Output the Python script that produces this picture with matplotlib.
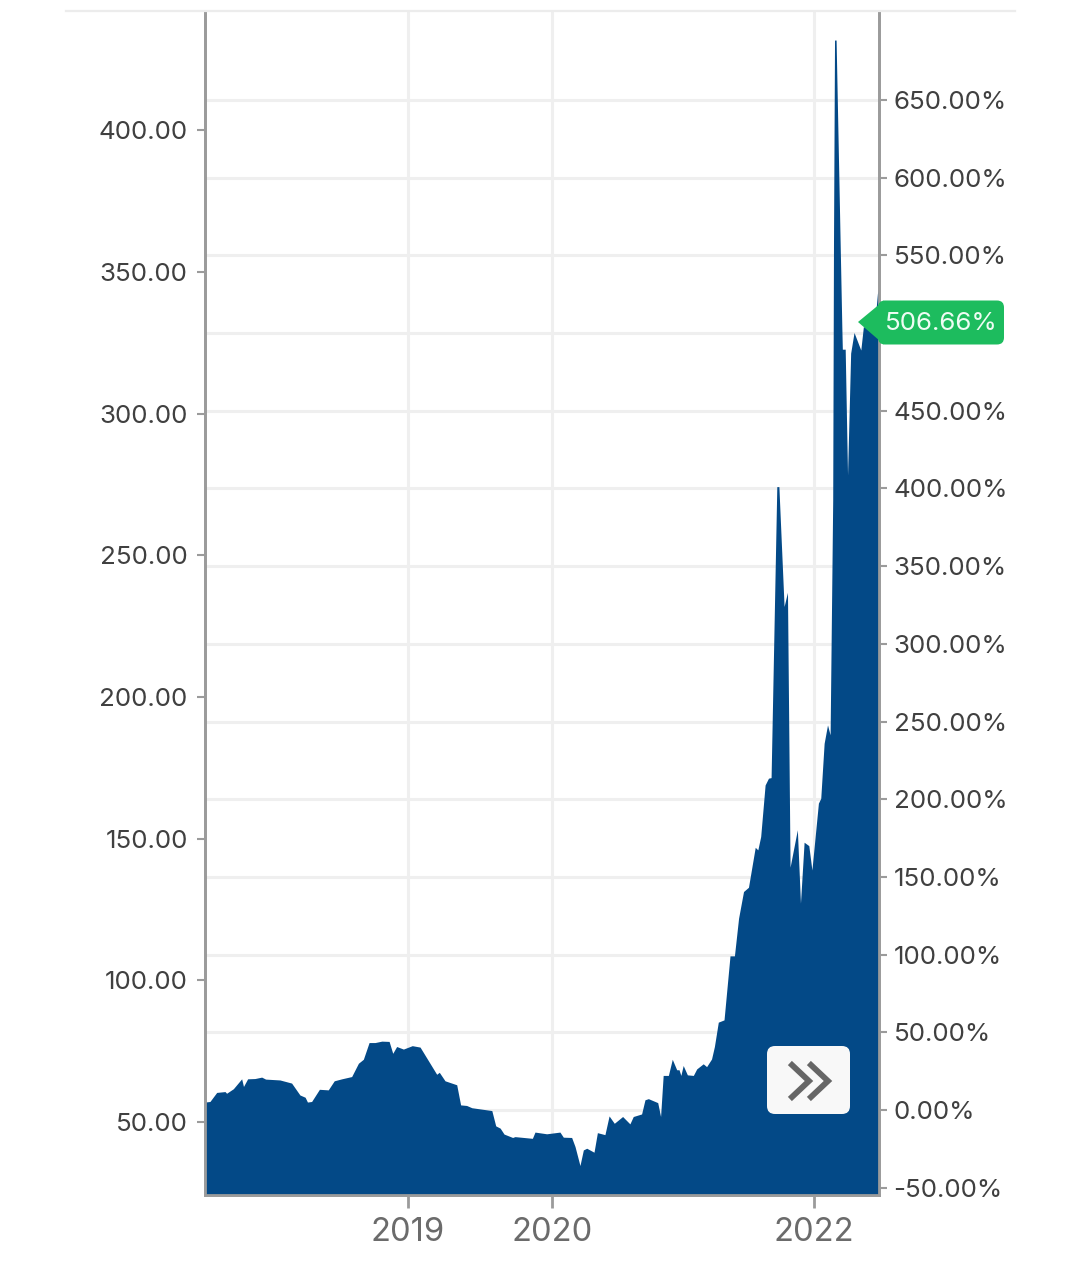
"""Share price area chart with price axis on the left and return axis on the right."""

import matplotlib

matplotlib.use("Agg")
import matplotlib.pyplot as plt
from matplotlib.patches import FancyBboxPatch, Polygon

plt.rcParams["font.family"] = ["Inter", "DejaVu Sans"]

# x position along the chart, in sessions (the axis is not linear in calendar time)
sessions = [
    0.0, 1.9, 4.5, 7.7, 8.3, 10.9, 14.1, 14.8, 16.4, 19.2, 21.8, 23.3, 28.8, 33.3, 36.5, 38.5,
    39.4, 41.0, 44.0, 47.4, 49.7, 52.6, 56.4, 59.0, 60.9, 63.1, 65.4, 68.0, 70.8, 72.2, 73.7,
    76.3, 79.7, 82.7, 86.5, 89.1, 90.1, 92.3, 96.8, 98.3, 100.6, 102.6, 110.3, 111.8, 113.5,
    115.0, 118.3, 119.2, 125.9, 126.9, 131.4, 136.5, 137.8, 141.0, 142.3, 144.2, 145.5, 146.8,
    149.6, 150.9, 153.8, 155.4, 157.4, 160.6, 163.4, 164.7, 167.9, 169.2, 170.5, 174.1, 175.2,
    176.2, 178.2, 179.7, 181.4, 182.3, 183.0, 183.9, 185.5, 187.8, 189.1, 191.6, 192.9, 194.8,
    195.9, 197.4, 199.6, 201.9, 203.6, 205.2, 207.1, 209.0, 211.6, 212.6, 213.7, 215.4, 216.7,
    217.7, 219.9, 220.7, 222.7, 224.0, 225.0, 227.8, 229.0, 230.4, 232.2, 233.4, 235.9, 236.8,
    238.1, 239.4, 240.4, 241.4, 241.7, 242.1, 242.7, 244.9, 245.1, 246.2, 247.1, 248.3, 249.6,
    252.2, 253.2, 255.8, 257.7, 258.6, 259.2,
]
price = [
    57.0, 57.2, 60.4, 60.7, 60.1, 61.7, 65.2, 62.5, 65.2, 65.3, 65.8, 65.1, 64.8, 63.7, 59.5, 58.7,
    57.0, 57.2, 61.5, 61.3, 64.5, 65.2, 66.0, 70.7, 72.1, 78.0, 78.0, 78.5, 78.4, 74.2, 76.6,
    75.7, 76.9, 76.4, 70.7, 66.8, 67.5, 64.5, 63.1, 56.0, 55.8, 55.0, 54.0, 48.6, 47.8,
    45.7, 44.5, 44.8, 44.2, 46.4, 45.8, 46.4, 44.6, 44.5, 41.3, 34.6, 40.1, 40.7,
    39.3, 46.2, 45.5, 52.1, 49.5, 51.9, 49.3, 51.9, 52.8, 57.8, 58.2, 56.8, 51.9,
    66.4, 66.4, 72.1, 68.4, 68.4, 66.4, 69.9, 66.6, 66.4, 68.7, 70.5, 69.5, 72.2,
    76.6, 85.2, 86.0, 108.6, 108.6, 121.9, 131.3, 132.8, 146.9, 146.0, 150.7, 168.9, 171.3,
    171.5, 274.2, 274.2, 231.9, 236.9, 139.9, 153.1, 127.2, 148.7, 147.5, 138.9, 162.5, 164.2,
    183.6, 190.1, 186.6, 269.5, 360.0, 431.8, 431.8, 330.7, 322.7, 322.7, 278.3, 321.3, 328.6,
    322.4, 330.7, 329.5, 333.0, 342.4, 344.0,
]

year_ticks = [78.1, 133.5, 234.2]
year_labels = ["2019", "2020", "2022"]
price_ticks = [50, 100, 150, 200, 250, 300, 350, 400]
price_labels = ["50.00", "100.00", "150.00", "200.00", "250.00", "300.00", "350.00", "400.00"]
return_ticks = [-50, 0, 50, 100, 150, 200, 250, 300, 350, 400, 450, 500, 550, 600, 650]
return_labels = [
    "-50.00%", "0.00%", "50.00%", "100.00%", "150.00%", "200.00%", "250.00%", "300.00%",
    "350.00%", "400.00%", "450.00%", "", "550.00%", "600.00%", "650.00%",
]
last_return = "506.66%"

W, H = 1080, 1263
GRID = "#efefef"
AXIS = "#9b9b9b"
BLUE = "#034987"

fig = plt.figure(figsize=(W / 100, H / 100), dpi=100, facecolor="white")
rect = [205 / W, (H - 1195) / H, 674 / W, 1183 / H]

# right axis sits underneath so its grid stays behind the area
ax_ret = fig.add_axes(rect, zorder=1)
ax_ret.yaxis.tick_right()
ax_ret.set_xlim(0, 259.2)
ax_ret.set_ylim(-54.7, 706.6)
ax_ret.set_yticks(return_ticks)
ax_ret.set_yticklabels(return_labels)
ax_ret.set_xticks([])
ax_ret.grid(axis="y", color=GRID, linewidth=2.2)
ax_ret.set_axisbelow(True)
ax_ret.tick_params(axis="y", length=5.5, width=1.5, color=AXIS, pad=5, labelsize=18.7, labelcolor="#404040")

ax = fig.add_axes(rect, zorder=2)
ax.patch.set_visible(False)
ax.fill_between(sessions, price, 0, color=BLUE, linewidth=0, zorder=2)
ax.set_xlim(0, 259.2)
ax.set_ylim(24.2, 441.7)
ax.set_yticks(price_ticks)
ax.set_yticklabels(price_labels)
ax.set_xticks(year_ticks)
ax.set_xticklabels(year_labels)
ax.grid(axis="x", color=GRID, linewidth=2.2)
ax.set_axisbelow(True)
ax.tick_params(axis="y", length=5.5, width=1.5, color=AXIS, pad=7, labelsize=18.7, labelcolor="#404040")
ax.tick_params(axis="x", length=9, width=2, color=AXIS, pad=7, labelsize=23.5, labelcolor="#6b6b6b")

for a in (ax, ax_ret):
    a.spines["top"].set_visible(False)
    for side in ("left", "right", "bottom"):
        a.spines[side].set_color(AXIS)
        a.spines[side].set_linewidth(2.0)
        a.spines[side].set_zorder(4)

# overlay in pixel coordinates for the top rule, value tag and scroll button
over = fig.add_axes([0, 0, 1, 1], zorder=5)
over.set_xlim(0, W)
over.set_ylim(H, 0)
over.axis("off")
over.plot([66, 1015], [11, 11], color="#ececec", linewidth=1.6)

GREEN = "#1dbc5e"
over.add_patch(Polygon([[858, 322], [884, 300.5], [884, 344.5]], closed=True, color=GREEN, linewidth=0))
over.add_patch(FancyBboxPatch((878, 300.5), 126, 44, boxstyle="round,pad=0,rounding_size=7", color=GREEN, linewidth=0))
over.text(941, 323.5, last_return, color="#eefcf3", fontsize=18.7, ha="center", va="center")

over.add_patch(FancyBboxPatch((767, 1046), 83, 68, boxstyle="round,pad=0,rounding_size=8", color="#f8f8f8", linewidth=0))
over.plot([792, 809, 792], [1065, 1081, 1097], color="#666666", linewidth=4.2, solid_joinstyle="miter")
over.plot([811, 828, 811], [1065, 1081, 1097], color="#666666", linewidth=4.2, solid_joinstyle="miter")

fig.savefig("out.png", dpi=100)
